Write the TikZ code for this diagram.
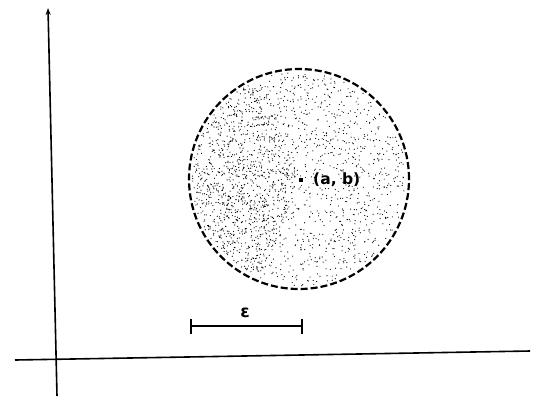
\documentclass[tikz,border=0pt]{standalone}
\usepackage{fontspec}
\setmainfont{Liberation Sans}
\newfontfamily\dvs{DejaVu Sans}
\usetikzlibrary{arrows.meta}
\tikzset{
  axis/.style={line width=1.6pt},
  stip/.style={fill=black},
  ballstyle/.style={draw, circle, inner sep=0pt, minimum size=220pt, line width=2.2pt, dash pattern=on 7pt off 3pt},
}
\begin{document}
\begin{tikzpicture}[x=1pt,y=-1pt]
\useasboundingbox (0,0) rectangle (537,397);
\fill[white] (0,0) rectangle (537,397);
% axes
\coordinate (ytop) at (48,8);
\coordinate (ybot) at (57,396);
\coordinate (xl) at (15,360);
\coordinate (xr) at (530,351);
\draw[axis] (xl) -- (xr);
\draw[axis,-{Stealth[length=7pt,width=5pt]}] (ybot) -- (ytop);
% stippling
\pgfmathsetseed{7}
\foreach \i in {1,...,1300}{
  \pgfmathsetmacro\r{107*sqrt(rnd)}
  \pgfmathsetmacro\t{360*rnd}
  \fill[stip] ({299+\r*cos(\t)},{179+\r*sin(\t)}) circle (0.6pt);
}
\foreach \i in {1,...,700}{
  \pgfmathsetmacro\r{107*sqrt(rnd)}
  \pgfmathsetmacro\t{110+140*rnd}
  \fill[stip] ({299+\r*cos(\t)},{179+\r*sin(\t)}) circle (0.6pt);
}
% ball
\node[ballstyle] (ball) at (299,179) {};
% point
\node[fill, inner sep=0pt, minimum size=4.5pt] (ab) at (301,180) {};
\node[anchor=west, inner sep=0pt, font=\dvs\bfseries\fontsize{15.5}{18}\selectfont] (lab) at (313,180) {(a, b)};
% epsilon bar
\coordinate (e1) at (190,326);
\coordinate (e2) at (303,326);
\draw[axis,{Bar[width=15pt]}-{Bar[width=15pt]}] (e1) -- (e2);
\node[font=\dvs\bfseries\fontsize{17}{19}\selectfont, inner sep=0pt] (eps) at (245,313) {ε};
\end{tikzpicture}
\end{document}
